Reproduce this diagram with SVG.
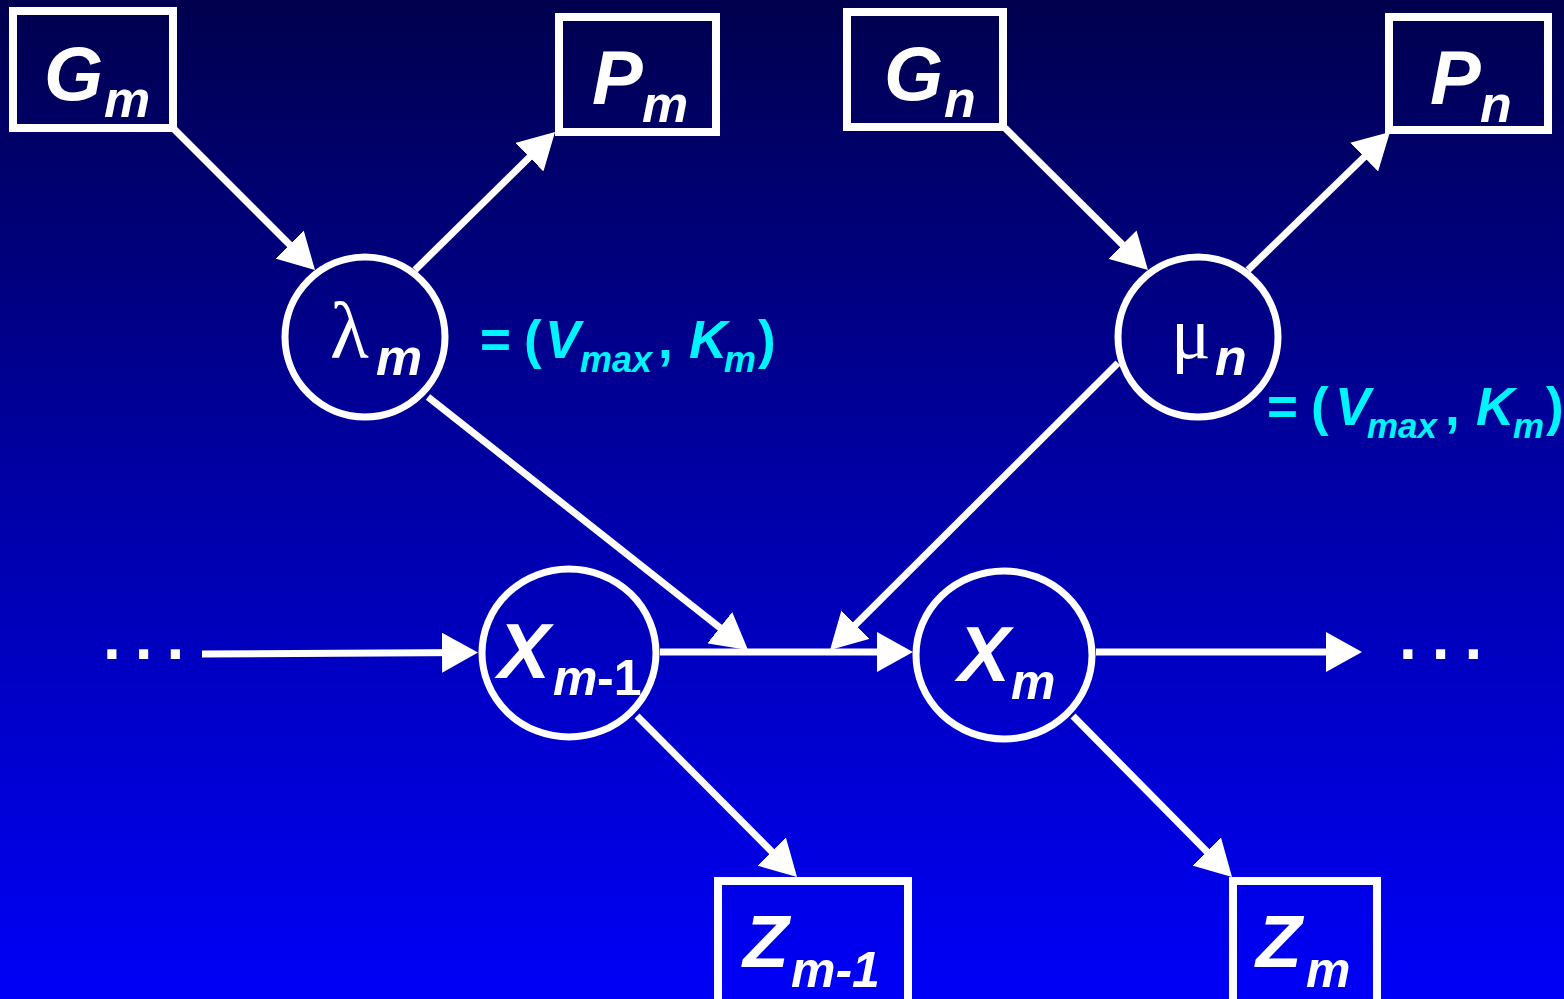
<svg xmlns="http://www.w3.org/2000/svg" width="1564" height="999" viewBox="0 0 1564 999">
<defs>
<linearGradient id="bg" x1="0" y1="0" x2="0" y2="1">
<stop offset="0" stop-color="#00004E"/>
<stop offset="0.5" stop-color="#0000A8"/>
<stop offset="1" stop-color="#0000F8"/>
</linearGradient>
<marker id="ah" markerUnits="userSpaceOnUse" viewBox="0 0 36 40" markerWidth="36" markerHeight="40" refX="26" refY="20" orient="auto">
<path d="M0,0 L36,20 L0,40 z" fill="#fff"/>
</marker>
<style>
.box{fill:none;stroke:#fff;stroke-width:8}
.node{fill:none;stroke:#fff;stroke-width:7}
.edge{fill:none;stroke:#fff;stroke-width:7;marker-end:url(#ah)}
.t{font-family:"Liberation Sans",Arial,sans-serif;font-weight:bold;fill:#fff}
.it{font-style:italic}
.g{font-family:"Liberation Serif","Times New Roman",serif;font-weight:normal;fill:#fff}
.c{font-family:"Liberation Sans",Arial,sans-serif;font-weight:bold;fill:#00F4FF}
</style>
</defs>
<rect width="1564" height="999" fill="url(#bg)"/>

<g id="connectors">
<line class="edge" x1="173" y1="128" x2="307.9" y2="262.9"/>
<line class="edge" x1="415" y1="270" x2="547.9" y2="139"/>
<line class="edge" x1="1005" y1="128" x2="1140.9" y2="262.9"/>
<line class="edge" x1="1248" y1="270" x2="1382.8" y2="139"/>
<line class="edge" x1="428" y1="397" x2="740.2" y2="643.8"/>
<line class="edge" x1="1118" y1="363" x2="837.1" y2="642.9"/>
<line class="edge" x1="202" y1="654" x2="468" y2="652.5"/>
<line class="edge" x1="660" y1="652" x2="903" y2="652"/>
<line class="edge" x1="1096" y1="652" x2="1352" y2="652"/>
<line class="edge" x1="637" y1="716" x2="790" y2="870"/>
<line class="edge" x1="1073" y1="716" x2="1225" y2="870"/>
</g>

<g id="Gm">
<rect class="box" x="13" y="11" width="160" height="117"/>
<text class="t it"><tspan x="44" y="100" font-size="76">G</tspan><tspan x="104" y="117" font-size="52">m</tspan></text>
</g>
<g id="Pm">
<rect class="box" x="559" y="17" width="157" height="115"/>
<text class="t it"><tspan x="592" y="104" font-size="76">P</tspan><tspan x="642" y="122" font-size="52">m</tspan></text>
</g>
<g id="Gn">
<rect class="box" x="847" y="12" width="156" height="115"/>
<text class="t it"><tspan x="884" y="100" font-size="76">G</tspan><tspan x="944" y="117" font-size="52">n</tspan></text>
</g>
<g id="Pn">
<rect class="box" x="1389" y="17" width="159" height="113"/>
<text class="t it"><tspan x="1430" y="104" font-size="76">P</tspan><tspan x="1480" y="122" font-size="52">n</tspan></text>
</g>

<g id="lambda">
<circle class="node" cx="365" cy="337" r="80"/>
<text><tspan class="g" x="330" y="358" font-size="80">λ</tspan><tspan class="t it" x="376" y="375" font-size="52">m</tspan></text>
<text class="c"><tspan x="480" y="358" font-size="53">=</tspan><tspan x="524" y="358" font-size="53">(</tspan><tspan class="it" x="545" y="358" font-size="53">V</tspan><tspan class="it" x="580" y="372" font-size="36">max</tspan><tspan x="658" y="358" font-size="53">,</tspan><tspan class="it" x="689" y="358" font-size="53">K</tspan><tspan class="it" x="724" y="372" font-size="36">m</tspan><tspan x="758" y="358" font-size="53">)</tspan></text>
</g>

<g id="mu">
<circle class="node" cx="1198" cy="337" r="80"/>
<text><tspan class="g" x="1171" y="358" font-size="74">μ</tspan><tspan class="t it" x="1215" y="375" font-size="52">n</tspan></text>
<text class="c"><tspan x="1267" y="425" font-size="53">=</tspan><tspan x="1311" y="425" font-size="53">(</tspan><tspan class="it" x="1335" y="425" font-size="53">V</tspan><tspan class="it" x="1367" y="438" font-size="35">max</tspan><tspan x="1445" y="425" font-size="53">,</tspan><tspan class="it" x="1476" y="425" font-size="53">K</tspan><tspan class="it" x="1513" y="438" font-size="35">m</tspan><tspan x="1546" y="425" font-size="53">)</tspan></text>
</g>

<g id="Xm-1">
<ellipse class="node" cx="569" cy="653" rx="87" ry="84"/>
<text class="t"><tspan class="it" x="498" y="678" font-size="78">X</tspan><tspan class="it" x="553" y="695" font-size="50">m</tspan><tspan x="597" y="695" font-size="50">-1</tspan></text>
</g>

<g id="Xm">
<ellipse class="node" cx="1004" cy="655" rx="88" ry="84"/>
<text class="t it"><tspan x="958" y="681" font-size="78">X</tspan><tspan x="1011" y="699" font-size="50">m</tspan></text>
</g>

<g id="Zm-1">
<rect class="box" x="718" y="881" width="190" height="130"/>
<text class="t it"><tspan x="743" y="967" font-size="75">Z</tspan><tspan x="791" y="987" font-size="50">m-1</tspan></text>
</g>

<g id="Zm">
<rect class="box" x="1233" y="881" width="144" height="130"/>
<text class="t it"><tspan x="1256" y="967" font-size="75">Z</tspan><tspan x="1306" y="987" font-size="50">m</tspan></text>
</g>

<g id="dots-left">
<text class="t" x="103" y="659" font-size="64" letter-spacing="14">...</text>
</g>
<g id="dots-right">
<text class="t" x="1399" y="659" font-size="64" letter-spacing="15">...</text>
</g>
</svg>
